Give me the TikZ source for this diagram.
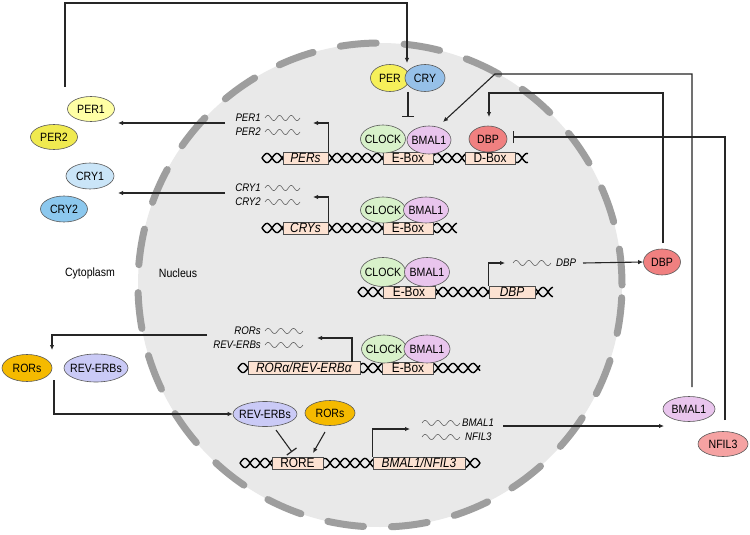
\documentclass[tikz,border=0pt]{standalone}
\usepackage{fontspec}
\setmainfont{Liberation Sans}[FakeStretch=0.88]
\usetikzlibrary{shapes.geometric,arrows.meta}
\definecolor{nucfill}{RGB}{233,233,233}
\definecolor{dashgray}{RGB}{158,158,158}
\definecolor{boxfill}{RGB}{252,226,210}
\definecolor{clockgreen}{RGB}{216,241,202}
\definecolor{bmalpink}{RGB}{233,197,237}
\definecolor{dbpred}{RGB}{240,128,128}
\definecolor{peryel}{RGB}{246,240,90}
\definecolor{cryblue}{RGB}{150,192,232}
\definecolor{perone}{RGB}{255,255,165}
\definecolor{pertwo}{RGB}{240,234,80}
\definecolor{cryone}{RGB}{202,229,248}
\definecolor{crytwo}{RGB}{140,200,238}
\definecolor{rorsorange}{RGB}{245,186,0}
\definecolor{reverb}{RGB}{202,202,246}
\definecolor{nfilred}{RGB}{245,162,162}
\newcommand\ovtext[1]{\makebox[0pt]{#1}}
\newcommand\dnahelix[3]{%
  \draw[dna] plot[domain=#1:#2,samples=220] (\x,{#3+4.6*sin(18*(\x-#1))});
  \draw[dna] plot[domain=#1:#2,samples=220] (\x,{#3-4.6*sin(18*(\x-#1))});}
\newcommand\mwave[3]{%
  \draw[wave] plot[domain=#1:#2,samples=60] (\x,{#3-2.6*sin((1080/(#2-#1))*(\x-#1))});}
\begin{document}
\begin{tikzpicture}[x=1pt,y=-1pt,
  oval/.style={ellipse,draw=black!65,line width=0.6pt,inner sep=0pt,font=\fontsize{12}{12}\selectfont},
  gbox/.style={rectangle,draw=black!70,line width=0.6pt,fill=boxfill,inner sep=0pt,minimum height=12pt,font=\fontsize{13.5}{13.5}\selectfont},
  lab/.style={font=\fontsize{11}{11}\selectfont\itshape,inner sep=0pt},
  plain/.style={font=\fontsize{12}{12}\selectfont,inner sep=0pt},
  conn/.style={line width=1.1pt,draw=black!85},
  arr/.style={conn,-{Latex[length=5pt,width=4.5pt]}},
  inh/.style={conn,-{Bar[width=12pt,line width=1.2pt]}},
  dna/.style={line width=1.4pt,black},
  wave/.style={line width=0.6pt,black!60}]
\useasboundingbox (0,0) rectangle (750,535);
\fill[white] (0,0) rectangle (750,535);
% nucleus
\fill[nucfill] (380,285) circle[radius=242pt];
\draw[dashgray,line width=7pt,line cap=round,dash pattern=on 36pt off 28pt] (380,285) circle[radius=242pt];
\node[plain] (cyto) at (90,273) {Cytoplasm};
\node[plain] (nucl) at (178,273) {Nucleus};

% ---------- row 1
\dnahelix{262}{528}{158}
\node[gbox,minimum width=45pt] (perbox) at (305.5,158) {\textit{PERs}};
\node[gbox,minimum width=50pt] (ebox1) at (408,158) {E-Box};
\node[gbox,minimum width=50pt] (dbox1) at (490,158) {D-Box};
\node[oval,fill=clockgreen,minimum width=45pt,minimum height=28pt] (clock1) at (383,139) {\ovtext{CLOCK}};
\node[oval,fill=bmalpink,minimum width=44pt,minimum height=28pt] (bmal1a) at (429,140) {\ovtext{BMAL1}};
\node[oval,fill=dbpred,minimum width=38pt,minimum height=26pt] (dbp1) at (488,139) {\ovtext{DBP}};
\node[oval,fill=peryel,minimum width=39pt,minimum height=27pt] (per) at (390,78) {\ovtext{PER}};
\node[oval,fill=cryblue,minimum width=40pt,minimum height=27pt] (cry) at (425,78) {\ovtext{CRY}};
\node[lab,anchor=east] (lper1) at (261,118) {PER1};
\node[lab,anchor=east] (lper2) at (261,132) {PER2};
\mwave{265}{300}{118}
\mwave{265}{300}{132}
\coordinate (a1) at (313,123);
\draw[arr] (perbox.north east) |- (a1);
\coordinate (a2s) at (225,123);
\coordinate (a2e) at (118,123);
\draw[arr] (a2s) -- (a2e);

% ---------- row 2
\dnahelix{262}{457}{228}
\node[gbox,minimum width=45pt] (crybox) at (305.5,228) {\textit{CRYs}};
\node[gbox,minimum width=50pt] (ebox2) at (408,228) {E-Box};
\node[oval,fill=clockgreen,minimum width=45pt,minimum height=26pt] (clock2) at (383,210) {\ovtext{CLOCK}};
\node[oval,fill=bmalpink,minimum width=45pt,minimum height=26pt] (bmal2) at (426,210) {\ovtext{BMAL1}};
\node[lab,anchor=east] (lcry1) at (261,188) {CRY1};
\node[lab,anchor=east] (lcry2) at (261,202) {CRY2};
\mwave{265}{300}{188}
\mwave{265}{300}{202}
\coordinate (b1) at (313,197);
\draw[arr] (crybox.north east) |- (b1);
\coordinate (b2s) at (225,193);
\coordinate (b2e) at (118,193);
\draw[arr] (b2s) -- (b2e);

% cytoplasm PER / CRY
\node[oval,fill=perone,minimum width=47pt,minimum height=25pt] (per1) at (91,109) {\ovtext{PER1}};
\node[oval,fill=pertwo,minimum width=47pt,minimum height=25pt] (per2) at (54,137) {\ovtext{PER2}};
\node[oval,fill=cryone,minimum width=48pt,minimum height=26pt] (cry1) at (90,176) {\ovtext{CRY1}};
\node[oval,fill=crytwo,minimum width=47pt,minimum height=26pt] (cry2) at (64,209) {\ovtext{CRY2}};

% ---------- row 3
\dnahelix{358}{553}{292}
\node[gbox,minimum width=52pt] (ebox3) at (409,292) {E-Box};
\node[gbox,minimum width=46pt] (dbpbox) at (512,292) {\textit{DBP}};
\node[oval,fill=clockgreen,minimum width=45pt,minimum height=29pt] (clock3) at (383,272) {\ovtext{CLOCK}};
\node[oval,fill=bmalpink,minimum width=45pt,minimum height=29pt] (bmal3) at (427,272) {\ovtext{BMAL1}};
\coordinate (c1) at (505,263);
\draw[arr] (dbpbox.north west) |- (c1);
\mwave{513}{551}{263}
\node[lab,anchor=west] (ldbp) at (556,263) {DBP};
\node[oval,fill=dbpred,minimum width=37pt,minimum height=26pt] (dbp2) at (662,262) {\ovtext{DBP}};
\coordinate (c2) at (583,263);
\draw[arr] (c2) -- (dbp2.west);

% ---------- row 4
\dnahelix{238}{480}{368}
\node[gbox,minimum width=112pt,minimum height=13pt] (rorbox) at (304,368) {\textit{RORα/REV-ERBα}};
\node[gbox,minimum width=51pt] (ebox4) at (408,368) {E-Box};
\node[oval,fill=clockgreen,minimum width=45pt,minimum height=28pt] (clock4) at (384,349) {\ovtext{CLOCK}};
\node[oval,fill=bmalpink,minimum width=46pt,minimum height=28pt] (bmal4) at (427,349) {\ovtext{BMAL1}};
\node[lab,anchor=east] (lrors) at (261,331) {RORs};
\node[lab,anchor=east] (lrev) at (261,345) {REV-ERBs};
\mwave{265}{303}{331}
\mwave{265}{303}{345}
\coordinate (d0) at (352,362);
\coordinate (d1) at (317,338);
\draw[arr] (d0) |- (d1);
\node[oval,fill=rorsorange,minimum width=50pt,minimum height=27pt] (rors1) at (27,368) {\ovtext{RORs}};
\node[oval,fill=reverb,minimum width=64pt,minimum height=28pt] (rev1) at (96,368) {\ovtext{REV-ERBs}};
\coordinate (d2) at (207,335);
\coordinate (d2b) at (52,350);
\draw[arr] (d2) -| (d2b);
\coordinate (d3) at (54,380);

% ---------- row 5
\dnahelix{240}{480}{463}
\node[gbox,minimum width=51pt] (rore) at (297.5,463) {RORE};
\node[gbox,minimum width=92pt] (bnbox) at (419,463) {\textit{BMAL1/NFIL3}};
\node[oval,fill=reverb,minimum width=64pt,minimum height=25pt] (rev2) at (265,414) {\ovtext{REV-ERBs}};
\node[oval,fill=rorsorange,minimum width=50pt,minimum height=25pt] (rors2) at (330,413) {\ovtext{RORs}};
\draw[arr] (d3) |- (rev2.west);
\coordinate (e0) at (276,430);
\coordinate (e1) at (292,452);
\coordinate (e2a) at (325,432);
\coordinate (e2) at (313,453);
\draw[inh] (e0) -- (e1);
\draw[arr] (e2a) -- (e2);
\coordinate (e3) at (410,429);
\draw[arr] (bnbox.north west) |- (e3);
\mwave{422}{460}{423}
\mwave{422}{460}{437}
\node[lab,anchor=west] (lbmal) at (462,423) {BMAL1};
\node[lab,anchor=west] (lnfil) at (465,437) {NFIL3};
\node[oval,fill=bmalpink,minimum width=52pt,minimum height=25pt] (bmalout) at (689,409) {\ovtext{BMAL1}};
\node[oval,fill=nfilred,minimum width=50pt,minimum height=25pt] (nfil) at (723,444) {\ovtext{NFIL3}};
\coordinate (e4) at (503,426);
\coordinate (e5) at (664,426);
\draw[arr] (e4) -- (e5);

% ---------- feedback lines
\coordinate (f0) at (65,87);
\coordinate (f1) at (407,63);
\draw[arr] (f0) -- (65,3) -| (f1);
\coordinate (i0) at (408,92);
\coordinate (i1) at (408,117);
\draw[inh] (i0) -- (i1);
\coordinate (g0) at (692,387);
\coordinate (g1) at (443,122);
\draw[arr] (g0) -- (692,74) -- (495,74) -- (g1);
\coordinate (h0) at (663,243);
\coordinate (h1) at (489,117);
\draw[arr] (h0) -- (663,93) -| (h1);
\coordinate (k0) at (725,420);
\coordinate (k1) at (513,137);
\draw[inh] (k0) |- (k1);
\end{tikzpicture}
\end{document}
